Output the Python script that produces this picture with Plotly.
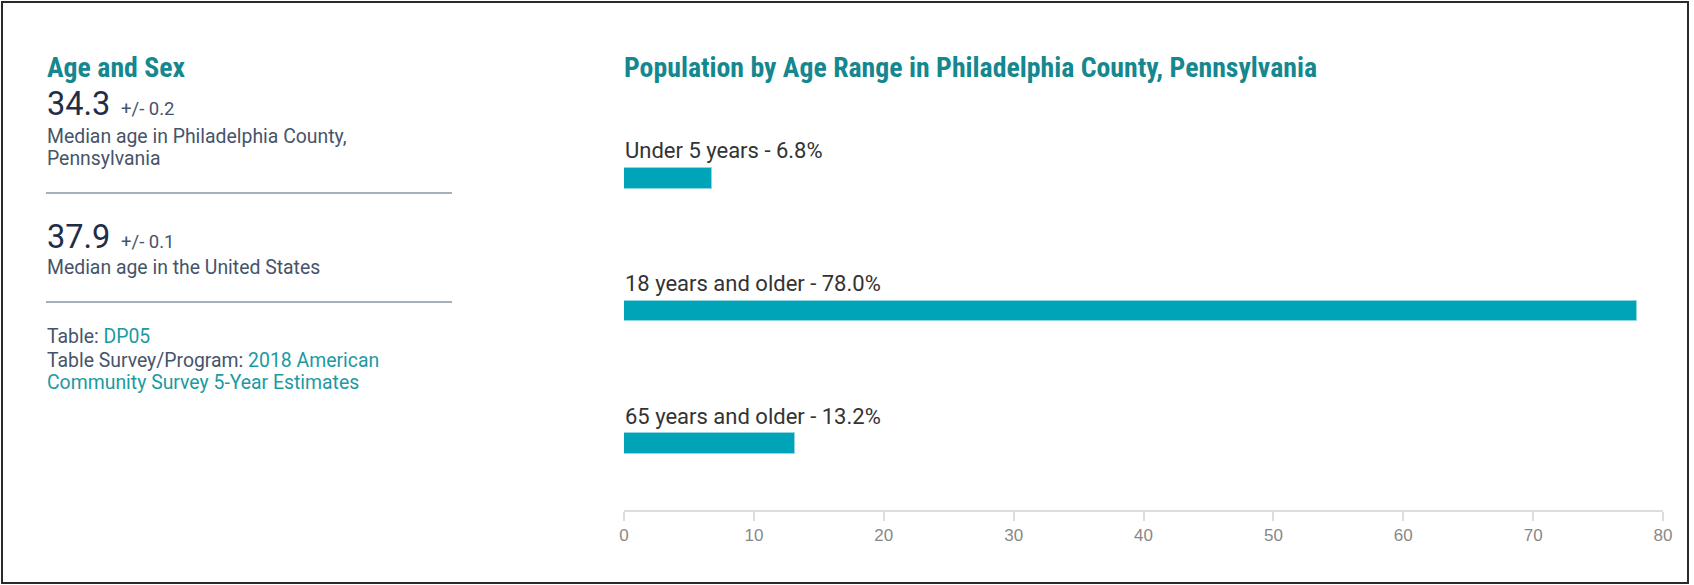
import plotly.graph_objects as go

# ---------------- data ----------------
age_groups = ["Under 5 years", "18 years and older", "65 years and older"]
age_pct = [6.8, 78.0, 13.2]
x_ticks = [0, 10, 20, 30, 40, 50, 60, 70, 80]

panel_title = "Age and Sex"
chart_title = "Population by Age Range in Philadelphia County, Pennsylvania"
median_values = [34.3, 37.9]
median_moe = [0.2, 0.1]
median_desc = [["Median age in Philadelphia County,", "Pennsylvania"],
               ["Median age in the United States"]]
table_id = "DP05"
survey_lines = ["2018 American", "Community Survey 5-Year Estimates"]

# ---------------- layout geometry ----------------
W, H = 1694, 585
PL, PR = 624, 1663      # plot left/right px
PT, PB = 112, 510       # plot top/bottom px


def xp(px):
    return (px - PL) / (PR - PL)


def yp(py):
    return (PB - py) / (PB - PT)


TEAL_TITLE = "#14878f"
TEAL_LINK = "#1b9aa2"
NAVY = "#1f2e48"
DESC = "#45546a"
BAR = "#00a4b8"
COND = "Roboto Condensed, Liberation Sans Narrow, Arial Narrow, Roboto"
ROBOTO = "Roboto, Arial, sans-serif"

fig = go.Figure()
fig.add_trace(go.Bar(
    x=age_pct, y=age_groups, orientation="h",
    marker=dict(color=BAR, line=dict(color="#8fd6df", width=1)),
    width=0.158, hoverinfo="skip", showlegend=False,
))

annotations = []


def text_at(px, baseline, text, size, color, family=ROBOTO):
    annotations.append(dict(
        xref="paper", yref="paper", x=xp(px), y=yp(baseline - 0.35 * size),
        xanchor="left", yanchor="middle", showarrow=False, text=text,
        font=dict(size=size, color=color, family=family), borderpad=0,
    ))


# bar labels
for cat, val in zip(age_groups, age_pct):
    annotations.append(dict(
        xref="x", yref="y", x=0, y=cat, xanchor="left", yanchor="bottom",
        yshift=14, showarrow=False, text=f"{cat} - {val:.1f}%",
        font=dict(size=22, color="#333333", family=ROBOTO), borderpad=0,
    ))

# titles
text_at(46, 77, f"<b>{panel_title}</b>", 27.8, TEAL_TITLE, COND)
text_at(623, 77, f"<b>{chart_title}</b>", 27.8, TEAL_TITLE, COND)

# medians
text_at(46, 115, f"{median_values[0]:.1f}", 32.5, NAVY)
text_at(120, 115, f"+/- {median_moe[0]:.1f}", 18.5, "#44546a")
text_at(46, 143, median_desc[0][0], 19.4, DESC)
text_at(46, 165, median_desc[0][1], 19.4, DESC)

text_at(46, 248, f"{median_values[1]:.1f}", 32.5, NAVY)
text_at(120, 248, f"+/- {median_moe[1]:.1f}", 18.5, "#44546a")
text_at(46, 274, median_desc[1][0], 19.4, DESC)

# source
text_at(46, 343, f"Table: <span style='color:{TEAL_LINK}'>{table_id}</span>", 19.4, DESC)
text_at(46, 367, f"Table Survey/Program: <span style='color:{TEAL_LINK}'>{survey_lines[0]}</span>", 19.4, DESC)
text_at(46, 389, f"<span style='color:{TEAL_LINK}'>{survey_lines[1]}</span>", 19.4, DESC)

shapes = [
    dict(type="line", xref="paper", yref="paper", x0=xp(46), x1=xp(452),
         y0=yp(193), y1=yp(193), line=dict(color="#8796a3", width=1.5)),
    dict(type="line", xref="paper", yref="paper", x0=xp(46), x1=xp(452),
         y0=yp(302), y1=yp(302), line=dict(color="#8796a3", width=1.5)),
    dict(type="rect", xref="paper", yref="paper", x0=xp(2), x1=xp(1688),
         y0=yp(583), y1=yp(2), line=dict(color="#2a2a2a", width=2)),
]

fig.update_layout(
    width=W, height=H,
    margin=dict(l=PL, r=W - PR, t=PT, b=H - PB, pad=0),
    paper_bgcolor="white", plot_bgcolor="white",
    annotations=annotations, shapes=shapes,
    xaxis=dict(range=[0, 80], tickvals=x_ticks, showgrid=False, zeroline=False,
               showline=True, linecolor="#dddddd", linewidth=1.5,
               ticks="outside", ticklen=9, tickcolor="#dddddd", tickwidth=1.5,
               tickfont=dict(size=17, color="#888888", family="Liberation Sans, Arial"),
               fixedrange=True),
    yaxis=dict(categoryorder="array", categoryarray=age_groups,
               range=[2.5, -0.5], showticklabels=False, showgrid=False,
               zeroline=False, showline=False, fixedrange=True),
    bargap=0,
)

fig.write_html(
    "out.html",
    config={"displayModeBar": False},
    post_script="document.body.style.margin='0px';document.body.style.overflow='hidden';",
)
